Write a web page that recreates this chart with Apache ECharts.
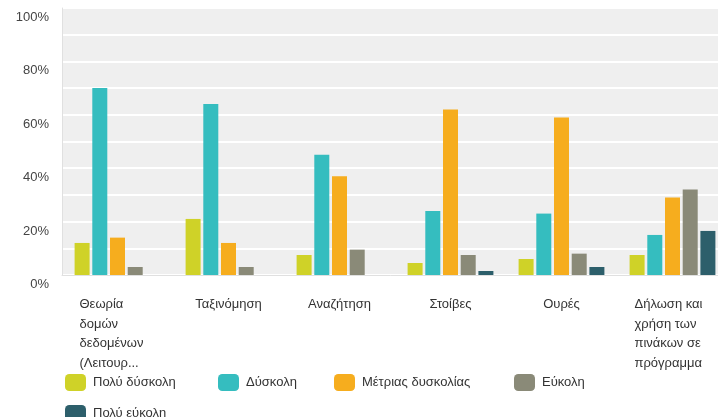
<!DOCTYPE html>
<html>
<head>
<meta charset="utf-8">
<script src="https://cdn.jsdelivr.net/npm/echarts@6/dist/echarts.min.js"></script>
<style>
    html, body { margin: 0; padding: 0; background: #fff; }
    #chart { width: 718px; height: 417px; }
</style>
</head>
<body>
<div id="chart"></div>
<script>
    // κατηγορίες (άξονας x)
    var categories = [
        'Θεωρία\nδομών\nδεδομένων\n(Λειτουρ...',
        'Ταξινόμηση',
        'Αναζήτηση',
        'Στοίβες',
        'Ουρές',
        'Δήλωση και\nχρήση των\nπινάκων σε\nπρόγραμμα'
    ];
    var seriesNames = ['Πολύ δύσκολη', 'Δύσκολη', 'Μέτριας δυσκολίας', 'Εύκολη', 'Πολύ εύκολη'];
    var veryHard = [12, 21, 7.5, 4.5, 6, 7.5];
    var hard = [70, 64, 45, 24, 23, 15];
    var medium = [14, 12, 37, 62, 59, 29];
    var easy = [3, 3, 9.5, 7.5, 8, 32];
    var veryEasy = [0, 0, 0, 1.5, 3, 16.5];
    var yTicks = [0, 20, 40, 60, 80, 100];

    var colors = ['#cfd228', '#35bdbf', '#f6ad1e', '#8a8a78', '#2d5f6b'];
    var values = [veryHard, hard, medium, easy, veryEasy];

    var myChart = echarts.init(document.getElementById('chart'));

    var series = seriesNames.map(function (name, i) {
        return {
            name: name,
            type: 'bar',
            data: values[i],
            barWidth: 15,
            barGap: '18%',
            itemStyle: {color: colors[i]}
        };
    });

    // θέσεις υπομνήματος
    var legendPos = [[60, 369], [213, 369], [329, 369], [509, 369], [60, 400]];
    var legends = seriesNames.map(function (name, i) {
        return {
            data: [name],
            left: legendPos[i][0],
            top: legendPos[i][1],
            icon: 'roundRect',
            itemWidth: 21,
            itemHeight: 17,
            itemGap: 0,
            selectedMode: false,
            textStyle: {fontFamily: 'Liberation Sans', fontSize: 13, color: '#333', padding: [0, 0, 0, 2]}
        };
    });

    var option = {
        animation: false,
        color: colors,
        legend: legends,
        grid: {
            left: 62,
            top: 8,
            width: 666,
            height: 267,
            outerBoundsMode: 'none',
            containLabel: false,
            show: true,
            backgroundColor: '#efefef',
            borderWidth: 0
        },
        xAxis: {
            type: 'category',
            data: categories,
            axisLine: {show: true, lineStyle: {color: '#e0e0e0', width: 1}},
            axisTick: {show: false},
            axisLabel: {
                interval: 0,
                margin: 20,
                fontFamily: 'Liberation Sans',
                fontSize: 13,
                lineHeight: 19.5,
                color: '#333',
                formatter: function (v) {
                    if (v.indexOf('\n') < 0) return v;
                    return v.split('\n').map(function (l) {
                        return '{a|' + l + '}';
                    }).join('\n');
                },
                rich: {
                    a: {width: 76, align: 'left', fontFamily: 'Liberation Sans', fontSize: 13, lineHeight: 19.5, color: '#333'}
                }
            }
        },
        yAxis: {
            type: 'value',
            min: 0,
            max: 100,
            interval: 10,
            axisLine: {show: true, lineStyle: {color: '#e0e0e0', width: 1}},
            axisTick: {show: false},
            splitLine: {lineStyle: {color: '#ffffff', width: 2}},
            axisLabel: {
                margin: 13,
                verticalAlign: 'top',
                padding: [3, 0, 0, 0],
                fontFamily: 'Liberation Sans',
                fontSize: 13,
                color: '#444',
                formatter: function (v) {
                    return yTicks.indexOf(v) >= 0 ? v + '%' : '';
                }
            }
        },
        series: series
    };

    myChart.setOption(option, true);
</script>
</body>
</html>
